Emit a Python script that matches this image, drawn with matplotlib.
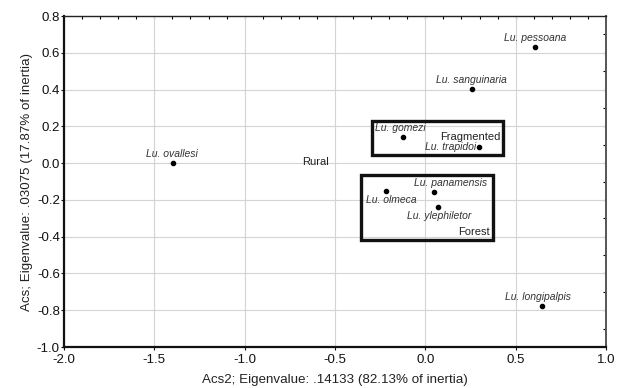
import numpy as np
import matplotlib
matplotlib.use("Agg")
import matplotlib.pyplot as plt
from matplotlib.patches import Rectangle

plt.rcParams['font.family'] = ['Liberation Sans', 'DejaVu Sans']

# species (column points)
species = ['Lu. pessoana', 'Lu. sanguinaria', 'Lu. gomezi', 'Lu. trapidoi',
           'Lu. ovallesi', 'Lu. panamensis', 'Lu. olmeca', 'Lu. ylephiletor',
           'Lu. longipalpis']
sp_x = [0.607, 0.256, -0.122, 0.297, -1.395, 0.046, -0.218, 0.068, 0.647]
sp_y = [0.633, 0.403, 0.142, 0.086, 0.001, -0.157, -0.153, -0.236, -0.776]

# habitats (row points, drawn as text only)
habitats = ['Rural', 'Fragmented', 'Forest']
hab_x = [-0.608, 0.247, 0.269]
hab_y = [0.005, 0.142, -0.374]

# group boxes: x0, y0, x1, y1
boxes = [(-0.297, 0.043, 0.431, 0.231),
         (-0.356, -0.419, 0.376, -0.064)]

# label offsets in points (dx, dy, ha, va)
offs = {
    'Lu. pessoana': (0, 3, 'center', 'bottom'),
    'Lu. sanguinaria': (0, 3, 'center', 'bottom'),
    'Lu. gomezi': (-2, 3, 'center', 'bottom'),
    'Lu. trapidoi': (-2, 0, 'right', 'center'),
    'Lu. ovallesi': (-1, 3, 'center', 'bottom'),
    'Lu. panamensis': (-14, 3, 'left', 'bottom'),
    'Lu. olmeca': (4, -3, 'center', 'top'),
    'Lu. ylephiletor': (1, -3, 'center', 'top'),
    'Lu. longipalpis': (-3, 3, 'center', 'bottom'),
}

fig = plt.figure(figsize=(6.23, 3.88), dpi=100)
ax = fig.add_axes([64/623, 1-347/388, 542/623, 331/388])

ax.set_xlim(-2.0, 1.0)
ax.set_ylim(-1.0, 0.8)
ax.set_xticks(np.arange(-2.0, 1.01, 0.5))
ax.set_yticks(np.arange(-1.0, 0.81, 0.2))
ax.set_xticklabels(['%.1f' % v for v in np.arange(-2.0, 1.01, 0.5)])
ax.set_yticklabels(['%.1f' % v if abs(v) > 1e-9 else '0.0' for v in np.arange(-1.0, 0.81, 0.2)])
ax.grid(True, color='#d4d4d4', linewidth=0.8)
ax.set_axisbelow(True)
ax.tick_params(direction='out', length=2, width=0.8, labelsize=9.5,
               colors='#111111')
ax.tick_params(axis='x', pad=3)
ax.tick_params(axis='y', pad=1)

for s in ['left', 'bottom']:
    ax.spines[s].set_linewidth(1.6)
    ax.spines[s].set_color('#111111')
ax.spines['top'].set_linewidth(1.0)
ax.spines['top'].set_color('#222222')
ax.spines['right'].set_linewidth(1.4)
ax.spines['right'].set_color('#555555')

top = ax.secondary_xaxis('top')
top.set_xticks(np.arange(-1.9, 1.0, 0.1))
top.tick_params(direction='in', length=2.5, width=0.8, labeltop=False)
top.spines['top'].set_visible(False)
right = ax.secondary_yaxis('right')
right.set_yticks(np.arange(-0.9, 0.8, 0.1))
right.tick_params(direction='in', length=2.5, width=0.8, labelright=False)
right.spines['right'].set_visible(False)

ax.scatter(sp_x, sp_y, s=9, color='black', zorder=3)

for name, x, y in zip(species, sp_x, sp_y):
    dx, dy, ha, va = offs[name]
    ax.annotate(name, (x, y), xytext=(dx, dy), textcoords='offset points',
                ha=ha, va=va, fontsize=7.5, style='italic', color='#333333')

for name, x, y in zip(habitats, hab_x, hab_y):
    ax.text(x, y, name, ha='center', va='center', fontsize=8, color='#222222')

for x0, y0, x1, y1 in boxes:
    ax.add_patch(Rectangle((x0, y0), x1 - x0, y1 - y0, fill=False,
                           edgecolor='#111111', linewidth=2.4, zorder=4))

ax.set_xlabel('Acs2; Eigenvalue: .14133 (82.13% of inertia)', fontsize=9.6,
              labelpad=6, color='#222222')
ax.set_ylabel('Acs; Eigenvalue: .03075 (17.87% of inertia)', fontsize=9.6,
              labelpad=3, color='#222222')

fig.savefig('out.png', dpi=100)
